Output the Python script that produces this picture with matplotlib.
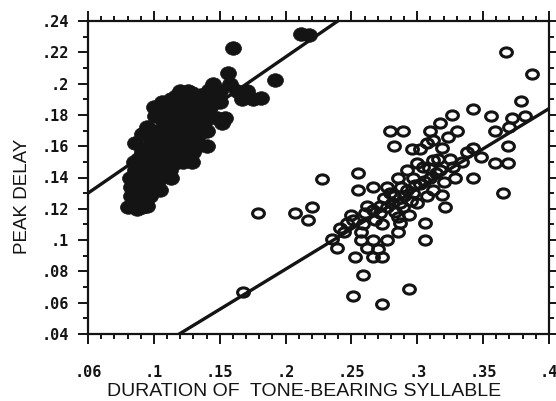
import numpy as np
import matplotlib.pyplot as plt
from matplotlib.path import Path
from matplotlib.transforms import Affine2D
from matplotlib.ticker import MultipleLocator, FixedLocator, FixedFormatter

# filled markers (short syllables)
x_filled = [0.212, 0.218, 0.160, 0.192, 0.156, 0.145, 0.171, 0.181, 0.167, 0.154,
            0.152, 0.134, 0.135, 0.129, 0.106, 0.101, 0.121, 0.139, 0.146, 0.080,
            0.091, 0.095, 0.083, 0.086, 0.099, 0.091, 0.091, 0.103, 0.114, 0.124,
            0.108, 0.118, 0.126, 0.116, 0.129, 0.103, 0.111, 0.134, 0.121, 0.096,
            0.141, 0.131, 0.086, 0.103, 0.090, 0.097, 0.086, 0.175, 0.130, 0.112,
            0.107, 0.118, 0.097, 0.088, 0.100, 0.125, 0.110, 0.115, 0.124, 0.138,
            0.094, 0.090, 0.082, 0.100, 0.113, 0.120,
            0.085, 0.093, 0.100, 0.105, 0.110, 0.115, 0.120, 0.125, 0.130, 0.135,
            0.128, 0.118, 0.108, 0.095, 0.098, 0.104, 0.112, 0.120, 0.127, 0.133,
            0.140, 0.143, 0.150, 0.158, 0.148, 0.140, 0.122, 0.113, 0.105, 0.092,
            0.087, 0.095, 0.083, 0.089, 0.097, 0.102, 0.110, 0.117, 0.126, 0.136,
            0.142, 0.163, 0.150]
y_filled = [0.232, 0.231, 0.223, 0.202, 0.207, 0.200, 0.195, 0.191, 0.190, 0.178,
            0.175, 0.168, 0.161, 0.194, 0.188, 0.179, 0.188, 0.190, 0.188, 0.121,
            0.121, 0.132, 0.134, 0.145, 0.143, 0.168, 0.156, 0.164, 0.172, 0.177,
            0.151, 0.153, 0.158, 0.149, 0.150, 0.179, 0.183, 0.185, 0.164, 0.160,
            0.181, 0.172, 0.162, 0.138, 0.138, 0.128, 0.128, 0.190, 0.156, 0.145,
            0.158, 0.170, 0.150, 0.152, 0.170, 0.165, 0.165, 0.178, 0.185, 0.175,
            0.140, 0.125, 0.140, 0.185, 0.190, 0.195,
            0.150, 0.147, 0.155, 0.145, 0.155, 0.160, 0.158, 0.170, 0.180, 0.178,
            0.188, 0.182, 0.175, 0.172, 0.165, 0.170, 0.168, 0.175, 0.160, 0.163,
            0.170, 0.185, 0.195, 0.200, 0.178, 0.160, 0.150, 0.140, 0.132, 0.133,
            0.120, 0.122, 0.128, 0.145, 0.138, 0.148, 0.187, 0.192, 0.195, 0.193,
            0.196, 0.195, 0.188]

# open markers (long syllables)
x_open = [0.367, 0.387, 0.379, 0.342, 0.326, 0.356, 0.372, 0.382, 0.317, 0.279,
          0.289, 0.310, 0.330, 0.359, 0.370, 0.282, 0.296, 0.307, 0.319, 0.369,
          0.342, 0.348, 0.300, 0.312, 0.325, 0.359, 0.369, 0.255, 0.228, 0.285,
          0.297, 0.310, 0.329, 0.342, 0.255, 0.266, 0.279, 0.292, 0.312, 0.319,
          0.365, 0.262, 0.277, 0.287, 0.300, 0.321, 0.220, 0.179, 0.207, 0.217,
          0.250, 0.260, 0.272, 0.285, 0.294, 0.247, 0.259, 0.273, 0.287, 0.306,
          0.244, 0.257, 0.285, 0.235, 0.257, 0.266, 0.277, 0.306, 0.239, 0.262,
          0.270, 0.253, 0.266, 0.273, 0.259, 0.294, 0.251, 0.273, 0.168, 0.282,
          0.289, 0.302, 0.307, 0.297, 0.317, 0.304, 0.327, 0.292, 0.277, 0.266,
          0.251, 0.241, 0.323, 0.302, 0.312, 0.338,
          0.272, 0.281, 0.290, 0.298, 0.305, 0.314, 0.320, 0.288, 0.275, 0.268,
          0.283, 0.295, 0.309, 0.316, 0.334]
y_open = [0.220, 0.206, 0.189, 0.184, 0.180, 0.179, 0.178, 0.179, 0.175, 0.170,
          0.170, 0.170, 0.170, 0.170, 0.172, 0.160, 0.158, 0.162, 0.159, 0.160,
          0.159, 0.153, 0.149, 0.151, 0.152, 0.149, 0.149, 0.143, 0.139, 0.140,
          0.140, 0.140, 0.140, 0.140, 0.132, 0.134, 0.130, 0.132, 0.132, 0.129,
          0.130, 0.122, 0.121, 0.124, 0.124, 0.121, 0.121, 0.117, 0.117, 0.113,
          0.116, 0.117, 0.117, 0.115, 0.116, 0.111, 0.110, 0.110, 0.111, 0.111,
          0.105, 0.105, 0.105, 0.101, 0.100, 0.100, 0.100, 0.100, 0.095, 0.095,
          0.094, 0.089, 0.089, 0.089, 0.078, 0.069, 0.064, 0.059, 0.067, 0.128,
          0.121, 0.136, 0.128, 0.130, 0.145, 0.147, 0.147, 0.145, 0.134, 0.119,
          0.113, 0.108, 0.166, 0.158, 0.164, 0.156,
          0.122, 0.124, 0.128, 0.135, 0.138, 0.143, 0.137, 0.134, 0.127, 0.113,
          0.118, 0.125, 0.146, 0.152, 0.150]

# regression lines: (x0, y at x0, slope)
fit_filled = (0.05, 0.130, 0.58)
fit_open = (0.40, 0.184, 0.513)

x_ticks = [0.05, 0.10, 0.15, 0.20, 0.25, 0.30, 0.35, 0.40]
x_labels = ['.06', '.1', '.15', '.2', '.25', '.3', '.35', '.4']
y_ticks = [0.04, 0.06, 0.08, 0.10, 0.12, 0.14, 0.16, 0.18, 0.20, 0.22, 0.24]
y_labels = ['.04', '.06', '.08', '.1', '.12', '.14', '.16', '.18', '.2', '.22', '.24']

ink = '#141414'

fig = plt.figure(figsize=(5.56, 4.01), dpi=100)
ax = fig.add_axes([88 / 556, 67 / 401, 461 / 556, 313 / 401])

ell_open = Path.unit_circle().transformed(Affine2D().scale(1, 0.78))
ell_fill = Path.unit_circle().transformed(Affine2D().scale(1, 0.85))

xs = np.array([0.0, 0.5])
for x0, y0, b in (fit_filled, fit_open):
    ax.plot(xs, y0 + b * (xs - x0), color=ink, lw=2.4, solid_capstyle='butt')

ax.plot(x_filled, y_filled, ls='none', marker=ell_fill, ms=11.5, mfc=ink, mec=ink, mew=0.5)
ax.plot(x_open, y_open, ls='none', marker=ell_open, ms=8.5, mfc='none', mec=ink, mew=2.2)

ax.set_xlim(0.05, 0.40)
ax.set_ylim(0.04, 0.24)

ax.xaxis.set_major_locator(FixedLocator(x_ticks))
ax.xaxis.set_major_formatter(FixedFormatter(x_labels))
ax.yaxis.set_major_locator(FixedLocator(y_ticks))
ax.yaxis.set_major_formatter(FixedFormatter(y_labels))
ax.xaxis.set_minor_locator(MultipleLocator(0.01))
ax.yaxis.set_minor_locator(MultipleLocator(0.01))

for s in ax.spines.values():
    s.set_linewidth(1.6)
    s.set_color(ink)

ax.tick_params(which='both', direction='out', top=True, right=True, color=ink, width=1.4)
ax.tick_params(which='major', length=7)
ax.tick_params(which='minor', length=3.5)
ax.tick_params(axis='x', which='major', pad=15)
ax.tick_params(axis='y', which='major', pad=7)

for lab in ax.get_xticklabels() + ax.get_yticklabels():
    lab.set_fontfamily('DejaVu Sans Mono')
    lab.set_fontsize(11)
    lab.set_fontweight('bold')
    lab.set_color(ink)

ax.set_xlabel('DURATION OF  TONE-BEARING SYLLABLE', family='Liberation Sans',
              fontsize=14, color=ink)
ax.set_ylabel('PEAK DELAY', family='Liberation Sans', fontsize=13.5, color=ink)
ax.xaxis.set_label_coords(0.469, -0.185)
ax.yaxis.set_label_coords(-0.143, 0.44)
ax.xaxis.label.set_va('center')
ax.yaxis.label.set_va('center')

fig.savefig('out.png', dpi=100)
